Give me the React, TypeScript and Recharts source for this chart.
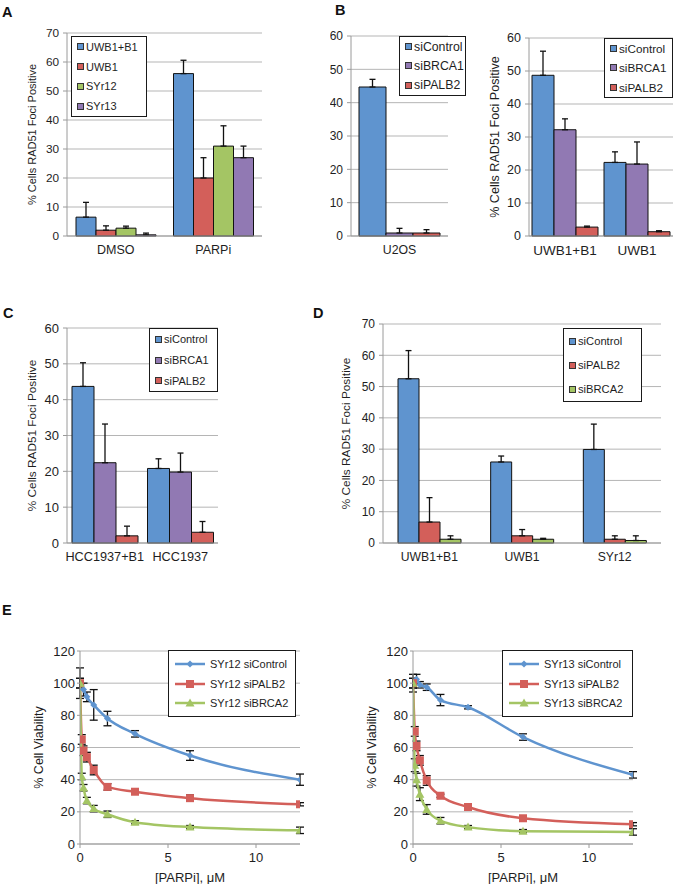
import React from 'react'
import {
  BarChart, Bar, LineChart, Line, XAxis, YAxis, CartesianGrid, Legend, ErrorBar,
} from 'recharts'

const BLUE = '#5f94cf'
const RED = '#d35f5a'
const GREEN = '#a4c564'
const PURPLE = '#9179b3'
const GRID = '#b5b5b5'
const AXIS = '#9a9a9a'
const INK = '#1e1e1e'
const FONT = '"Liberation Sans", Arial, sans-serif'
const Y_LABEL = '% Cells RAD51 Foci Positive'

// A
const aGroups = ['DMSO', 'PARPi']
const aNames = ['UWB1+B1', 'UWB1', 'SYr12', 'SYr13']
const aUwbB1 = [6.5, 56]
const aUwb = [2, 20]
const aSyr12 = [2.7, 31]
const aSyr13 = [0.4, 27]
const aUwbB1Err = [5.1, 4.6]
const aUwbErr = [1.5, 7]
const aSyr12Err = [0.7, 7]
const aSyr13Err = [0.6, 4]

// B (left)
const bGroups = ['U2OS']
const bNames = ['siControl', 'siBRCA1', 'siPALB2']
const bCtrl = [44.7]
const bBrca1 = [0.9]
const bPalb2 = [0.9]
const bCtrlErr = [2.3]
const bBrca1Err = [1.4]
const bPalb2Err = [1]

// B (right)
const b2Groups = ['UWB1+B1', 'UWB1']
const b2Ctrl = [48.7, 22.3]
const b2Brca1 = [32.2, 21.8]
const b2Palb2 = [2.7, 1.3]
const b2CtrlErr = [7.3, 3.2]
const b2Brca1Err = [3.3, 6.7]
const b2Palb2Err = [0.3, 0.3]

// C
const cGroups = ['HCC1937+B1', 'HCC1937']
const cCtrl = [43.7, 20.8]
const cBrca1 = [22.4, 19.8]
const cPalb2 = [2, 3]
const cCtrlErr = [6.6, 2.7]
const cBrca1Err = [10.8, 5.3]
const cPalb2Err = [2.7, 3]

// D
const dGroups = ['UWB1+B1', 'UWB1', 'SYr12']
const dNames = ['siControl', 'siPALB2', 'siBRCA2']
const dCtrl = [52.5, 25.9, 29.9]
const dPalb2 = [6.7, 2.3, 1.2]
const dBrca2 = [1.2, 1.2, 0.8]
const dCtrlErr = [9, 1.9, 8.1]
const dPalb2Err = [7.8, 2, 1.1]
const dBrca2Err = [1.1, 0.3, 1.5]

// E
const eDoses = [0, 0.1, 0.2, 0.39, 0.78, 1.56, 3.125, 6.25, 12.5]
const eCtrlDoses = [0, 0.2, 0.39, 0.78, 1.56, 3.125, 6.25, 12.5]
const e12Names = ['SYr12 siControl', 'SYr12 siPALB2', 'SYr12 siBRCA2']
const e12Ctrl = [100, 96, 91.5, 86.5, 78, 68.5, 55, 40]
const e12CtrlErr = [9.5, 4, 3, 9.5, 4.5, 2, 3, 3.5]
const e12Palb2 = [100, 65, 58, 54, 46, 35.5, 32.5, 28.5, 24.7]
const e12Palb2Err = [3, 3, 3, 3, 3, 2, 1.5, 2, 1]
const e12Brca2 = [100, 42, 35, 27, 22, 18.5, 13.5, 10.5, 8.5]
const e12Brca2Err = [3, 2, 2, 2, 2, 2, 1, 1, 2]
const e13Names = ['SYr13 siControl', 'SYr13 siPALB2', 'SYr13 siBRCA2']
const e13Ctrl = [100, 102.5, 99, 97.5, 89.5, 85, 66.5, 43]
const e13CtrlErr = [5.5, 3, 2, 2, 3.5, 1, 2, 2]
const e13Palb2 = [100, 70, 61, 52, 39.5, 30, 23, 16, 12.3]
const e13Palb2Err = [3, 3, 3, 3, 3, 1, 1, 1, 1]
const e13Brca2 = [100, 49, 40, 31, 21.5, 14.5, 10.5, 8, 7.5]
const e13Brca2Err = [3, 4, 4, 4, 3, 2, 1, 1, 2]

const buildRows = (groups: string[], values: number[][], errors: number[][]) =>
  groups.map((g, i) => {
    const row: Record<string, any> = { group: g }
    values.forEach((s, j) => {
      row['v' + j] = s[i]
      row['e' + j] = [0, errors[j][i]]
    })
    return row
  })

const buildPoints = (xs: number[], ys: number[], errs: number[]) =>
  xs.map((x, i) => ({ x, y: ys[i], err: errs[i] }))

const boxStyle = (fontSize: number): React.CSSProperties => ({
  border: '1.5px solid #1a1a1a', background: '#fff', width: '100%', height: '100%',
  boxSizing: 'border-box', display: 'flex', flexDirection: 'column', fontSize, color: INK,
})

function BarLegend({ names, colors, fontSize }: { names: string[]; colors: string[]; fontSize: number }) {
  return (
    <div style={boxStyle(fontSize)}>
      {names.map((n, i) => (
        <div key={n} style={{ flex: 1, display: 'flex', alignItems: 'center', paddingLeft: 5 }}>
          <span style={{ width: 5, height: 5, background: colors[i], border: '1px solid #333', marginRight: 2 }} />
          <span>{n}</span>
        </div>
      ))}
    </div>
  )
}

function Marker({ cx, cy, shape, color }: { cx: number; cy: number; shape: string; color: string }) {
  if (shape === 'square') return <rect x={cx - 4} y={cy - 4} width={8} height={8} fill={color} />
  if (shape === 'triangle') return <polygon points={`${cx},${cy - 4.5} ${cx + 4.5},${cy + 3.5} ${cx - 4.5},${cy + 3.5}`} fill={color} />
  return <polygon points={`${cx},${cy - 3.5} ${cx + 3.5},${cy} ${cx},${cy + 3.5} ${cx - 3.5},${cy}`} fill={color} />
}

type Series = { name: string; color: string; shape: string; data: { x: number; y: number; err: number }[] }

function LineLegend({ series }: { series: Series[] }) {
  return (
    <div style={{ ...boxStyle(11), padding: '3px 0' }}>
      {series.map((s) => (
        <div key={s.name} style={{ flex: 1, display: 'flex', alignItems: 'center', paddingLeft: 5 }}>
          <svg width={32} height={10} style={{ marginRight: 4 }}>
            <line x1={1} y1={5} x2={31} y2={5} stroke={s.color} strokeWidth={2.5} />
            <Marker cx={16} cy={5} shape={s.shape} color={s.color} />
          </svg>
          <span>{s.name}</span>
        </div>
      ))}
    </div>
  )
}

type BarPanelProps = {
  left: number; top: number; width: number; height: number
  plotTop: number; plotRight: number; plotBottom: number; axisW: number
  max: number; groups: string[]; names: string[]; colors: string[]
  values: number[][]; errors: number[][]; gap: number
  legend: { x: number; y: number; w: number; h: number; fs: number }
  fonts: { tick: number; cat: number; label: number }
  labelX?: number
}

function BarPanel(p: BarPanelProps) {
  const rows = buildRows(p.groups, p.values, p.errors)
  const ticks: number[] = []
  for (let t = 0; t <= p.max; t += 10) ticks.push(t)
  return (
    <div style={{ position: 'absolute', left: p.left, top: p.top }}>
      <BarChart
        width={p.width}
        height={p.height}
        data={rows}
        barGap={0}
        barCategoryGap={p.gap}
        margin={{ top: p.plotTop - p.top, right: p.left + p.width - p.plotRight, left: 0, bottom: 0 }}
      >
        <CartesianGrid vertical={false} stroke={GRID} />
        <XAxis
          dataKey="group"
          height={p.top + p.height - p.plotBottom}
          stroke={AXIS}
          tickLine={false}
          tickSize={5}
          tickMargin={4}
          tick={{ fill: INK, fontSize: p.fonts.cat }}
        />
        <YAxis
          width={p.axisW}
          domain={[0, p.max]}
          ticks={ticks}
          stroke={AXIS}
          tickSize={4}
          tickMargin={4}
          tick={{ fill: INK, fontSize: p.fonts.tick }}
          label={p.labelX === undefined ? undefined : {
            value: Y_LABEL, angle: -90, position: 'insideLeft', offset: p.labelX - p.left,
            style: { textAnchor: 'middle', fontSize: p.fonts.label, fill: INK },
          }}
        />
        <Legend
          layout="vertical"
          align="center"
          verticalAlign="middle"
          wrapperStyle={{ left: p.legend.x - p.left, top: p.legend.y - p.top, width: p.legend.w, height: p.legend.h }}
          content={() => <BarLegend names={p.names} colors={p.colors} fontSize={p.legend.fs} />}
        />
        {p.names.map((n, j) => (
          <Bar key={n} dataKey={'v' + j} name={n} fill={p.colors[j]} stroke="#111" strokeWidth={1} isAnimationActive={false}>
            <ErrorBar dataKey={'e' + j} width={3} stroke="#111" strokeWidth={1.3} direction="y" />
          </Bar>
        ))}
      </BarChart>
    </div>
  )
}

function ViabilityPanel({ left, top, width, height, plotRight, axisW, series, legend, labelX }: {
  left: number; top: number; width: number; height: number; plotRight: number; axisW: number
  series: Series[]; legend: { x: number; y: number; w: number; h: number }; labelX: number
}) {
  const plotTop = 651
  const plotBottom = 844
  return (
    <div style={{ position: 'absolute', left, top }}>
      <LineChart
        width={width}
        height={height}
        margin={{ top: plotTop - top, right: left + width - plotRight, left: 0, bottom: 0 }}
      >
        <CartesianGrid vertical={false} stroke={GRID} />
        <XAxis
          type="number"
          dataKey="x"
          domain={[0, 12.5]}
          ticks={[0, 5, 10]}
          allowDataOverflow
          height={top + height - plotBottom}
          stroke={AXIS}
          tickSize={4}
          tickMargin={5}
          tick={{ fill: INK, fontSize: 13 }}
          label={{ value: '[PARPi], \u03bcM', position: 'insideBottom', offset: 2, style: { fontSize: 13, fill: INK } }}
        />
        <YAxis
          width={axisW}
          domain={[0, 120]}
          ticks={[0, 20, 40, 60, 80, 100, 120]}
          allowDataOverflow
          stroke={AXIS}
          tickSize={3}
          tickMargin={2}
          tick={{ fill: INK, fontSize: 13 }}
          label={{
            value: '% Cell Viability', angle: -90, position: 'insideLeft', offset: labelX - left,
            style: { textAnchor: 'middle', fontSize: 12.5, fill: INK },
          }}
        />
        <Legend
          layout="vertical"
          align="center"
          verticalAlign="middle"
          wrapperStyle={{ left: legend.x - left, top: legend.y - top, width: legend.w, height: legend.h }}
          content={() => <LineLegend series={series} />}
        />
        {series.map((s) => (
          <Line
            key={s.name}
            data={s.data}
            dataKey="y"
            name={s.name}
            type="monotone"
            stroke={s.color}
            strokeWidth={2.5}
            isAnimationActive={false}
            dot={(d: any) => <Marker key={d.index} cx={d.cx} cy={d.cy} shape={s.shape} color={s.color} />}
          >
            <ErrorBar dataKey="err" width={4} stroke="#111" strokeWidth={1.3} direction="y" />
          </Line>
        ))}
      </LineChart>
    </div>
  )
}

function PanelLetter({ x, y, text }: { x: number; y: number; text: string }) {
  return (
    <div style={{ position: 'absolute', left: x, top: y, fontSize: 14.5, fontWeight: 'bold', lineHeight: 1, color: '#111' }}>
      {text}
    </div>
  )
}

export default function App() {
  const e12: Series[] = [
    { name: e12Names[0], color: BLUE, shape: 'diamond', data: buildPoints(eCtrlDoses, e12Ctrl, e12CtrlErr) },
    { name: e12Names[1], color: RED, shape: 'square', data: buildPoints(eDoses, e12Palb2, e12Palb2Err) },
    { name: e12Names[2], color: GREEN, shape: 'triangle', data: buildPoints(eDoses, e12Brca2, e12Brca2Err) },
  ]
  const e13: Series[] = [
    { name: e13Names[0], color: BLUE, shape: 'diamond', data: buildPoints(eCtrlDoses, e13Ctrl, e13CtrlErr) },
    { name: e13Names[1], color: RED, shape: 'square', data: buildPoints(eDoses, e13Palb2, e13Palb2Err) },
    { name: e13Names[2], color: GREEN, shape: 'triangle', data: buildPoints(eDoses, e13Brca2, e13Brca2Err) },
  ]
  return (
    <div style={{ position: 'absolute', left: 0, top: 0, width: 675, height: 885, background: '#fff', fontFamily: FONT, overflow: 'hidden' }}>
      <PanelLetter x={2} y={5} text="A" />
      <PanelLetter x={335} y={3} text="B" />
      <PanelLetter x={3} y={306} text="C" />
      <PanelLetter x={313} y={306} text="D" />
      <PanelLetter x={2} y={603} text="E" />

      <BarPanel
        left={0} top={0} width={270} height={262}
        plotTop={33} plotRight={262} plotBottom={236} axisW={67}
        max={70} groups={aGroups} names={aNames} colors={[BLUE, RED, GREEN, PURPLE]}
        values={[aUwbB1, aUwb, aSyr12, aSyr13]} errors={[aUwbB1Err, aUwbErr, aSyr12Err, aSyr13Err]}
        gap={9} legend={{ x: 71, y: 36, w: 76, h: 81, fs: 11 }} labelX={32}
        fonts={{ tick: 11.8, cat: 12.5, label: 11 }}
      />
      <BarPanel
        left={330} top={0} width={125} height={262}
        plotTop={36} plotRight={448} plotBottom={236} axisW={21}
        max={60} groups={bGroups} names={bNames} colors={[BLUE, PURPLE, RED]}
        values={[bCtrl, bBrca1, bPalb2]} errors={[bCtrlErr, bBrca1Err, bPalb2Err]}
        gap={8} legend={{ x: 399, y: 36, w: 67, h: 60, fs: 12.3 }}
        fonts={{ tick: 12, cat: 12.3, label: 11 }}
      />
      <BarPanel
        left={480} top={0} width={195} height={262}
        plotTop={38} plotRight={673} plotBottom={236} axisW={49}
        max={60} groups={b2Groups} names={bNames} colors={[BLUE, PURPLE, RED]}
        values={[b2Ctrl, b2Brca1, b2Palb2]} errors={[b2CtrlErr, b2Brca1Err, b2Palb2Err]}
        gap={3} legend={{ x: 604, y: 38, w: 69, h: 60, fs: 11.7 }} labelX={495}
        fonts={{ tick: 12.5, cat: 13.5, label: 12.6 }}
      />
      <BarPanel
        left={0} top={300} width={225} height={269}
        plotTop={328} plotRight={218} plotBottom={543} axisW={67}
        max={60} groups={cGroups} names={bNames} colors={[BLUE, PURPLE, RED]}
        values={[cCtrl, cBrca1, cPalb2]} errors={[cCtrlErr, cBrca1Err, cPalb2Err]}
        gap={5} legend={{ x: 149, y: 328, w: 69, h: 64, fs: 11 }} labelX={32}
        fonts={{ tick: 13, cat: 12.7, label: 11.8 }}
      />
      <BarPanel
        left={300} top={300} width={365} height={269}
        plotTop={324} plotRight={661} plotBottom={543} axisW={83}
        max={70} groups={dGroups} names={dNames} colors={[BLUE, RED, GREEN]}
        values={[dCtrl, dPalb2, dBrca2]} errors={[dCtrlErr, dPalb2Err, dBrca2Err]}
        gap={15} legend={{ x: 563, y: 328, w: 79, h: 74, fs: 11.2 }} labelX={346}
        fonts={{ tick: 12, cat: 12.2, label: 11.8 }}
      />

      <ViabilityPanel
        left={0} top={600} width={305} height={284} plotRight={300} axisW={80}
        series={e12} legend={{ x: 168, y: 650, w: 128, h: 67 }} labelX={39}
      />
      <ViabilityPanel
        left={340} top={600} width={300} height={284} plotRight={633} axisW={73}
        series={e13} legend={{ x: 502, y: 650, w: 131, h: 67 }} labelX={372}
      />
    </div>
  )
}
